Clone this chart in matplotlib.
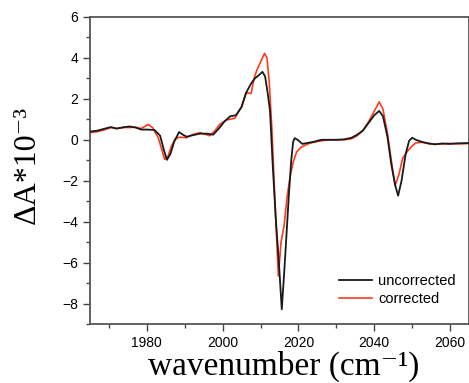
import matplotlib
matplotlib.use("Agg")
import matplotlib.pyplot as plt
from matplotlib.ticker import MultipleLocator

# data
x_uncorr = [1965, 1967, 1969, 1970.5, 1972, 1974, 1975.5, 1977, 1978.5, 1980, 1982, 1983.5, 1984.5,
            1985.3, 1986.2, 1987.2, 1988.5, 1989.5, 1990.5, 1992, 1994, 1996, 1997.5, 1999, 2000.5,
            2002, 2003.5, 2005, 2006.2, 2007.5, 2008.5, 2009.5, 2010.5, 2011.2, 2011.9, 2012.5,
            2013.2, 2014, 2014.8, 2015.6, 2016.2, 2016.8, 2017.5, 2018.1, 2018.6, 2019.0, 2019.8,
            2021, 2022.5, 2024, 2026, 2028, 2030, 2032, 2034, 2035.5, 2037, 2038.7, 2040, 2041.3,
            2042.3, 2043.5, 2044.5, 2045.5, 2046.3, 2047.2, 2048.3, 2049.2, 2050, 2051, 2052.7,
            2054.5, 2056, 2058, 2060, 2062, 2065]
y_uncorr = [0.40, 0.45, 0.55, 0.62, 0.55, 0.62, 0.65, 0.6, 0.5, 0.5, 0.48, 0.2, -0.5,
            -0.98, -0.7, -0.1, 0.38, 0.25, 0.15, 0.22, 0.30, 0.3, 0.25, 0.55, 0.9,
            1.15, 1.2, 1.6, 2.3, 2.75, 3.0, 3.15, 3.32, 3.1, 2.26, 1.4,
            -1.2, -3.8, -5.9, -8.28, -6.6, -4.77, -2.6, -1.0, -0.1, 0.08, 0.0,
            -0.2, -0.15, -0.1, 0.0, 0.0, 0.0, 0.02, 0.1, 0.25, 0.45, 0.87, 1.2, 1.41,
            1.15, 0.13, -1.2, -2.2, -2.73, -2.0, -0.68, -0.05, 0.1, 0.0, -0.11,
            -0.18, -0.22, -0.18, -0.2, -0.17, -0.16]

x_corr = [1965, 1967, 1969, 1970.5, 1972, 1974, 1975.5, 1977, 1978.5, 1980.3, 1981.5, 1983, 1984.7,
          1985.5, 1986.5, 1987.5, 1988.7, 1990.4, 1992, 1994, 1996.6, 1998, 1999.2, 2001, 2003.2,
          2004.9, 2006.2, 2007.5, 2008.3, 2009, 2010, 2011.05, 2011.7, 2012.3, 2013, 2013.8,
          2014.7, 2015.4, 2016.2, 2017.0, 2017.8, 2018.6, 2019.5, 2020.7, 2022.5, 2024, 2026, 2028,
          2030, 2032, 2034, 2035.5, 2037, 2038.7, 2040, 2041.3, 2042.3, 2043.5, 2044.5, 2045.5,
          2046.5, 2047.5, 2049, 2050, 2051, 2052.7, 2054.5, 2056, 2058, 2060, 2062, 2065]
y_corr = [0.35, 0.4, 0.5, 0.6, 0.55, 0.6, 0.6, 0.62, 0.55, 0.75, 0.6, 0.1, -0.95,
          -0.85, -0.3, 0.05, 0.13, 0.1, 0.25, 0.35, 0.2, 0.45, 0.75, 0.97, 1.05,
          1.6, 2.3, 2.26, 3.0, 3.4, 3.8, 4.22, 4.0, 2.8, 0.5, -3.0,
          -6.65, -5.0, -4.2, -2.8, -1.8, -1.1, -0.6, -0.36, -0.2, -0.12, -0.05, 0.0,
          0.0, 0.0, 0.05, 0.2, 0.45, 0.95, 1.4, 1.85, 1.5, 0.3, -1.0, -2.24,
          -1.7, -0.9, -0.5, -0.3, -0.15, -0.12, -0.2, -0.22, -0.2, -0.18, -0.2, -0.18]

labels = ["uncorrected", "corrected"]

fig = plt.figure(figsize=(4.69, 3.83), dpi=100)
ax = fig.add_axes([90/469, 1-324/383, 1-90/469, (324-17)/383])

ax.plot(x_uncorr, y_uncorr, color='#1a1a1a', lw=1.3, label=labels[0], zorder=3)
ax.plot(x_corr, y_corr, color='#ff3a1c', lw=1.2, label=labels[1], zorder=2)

ax.set_xlim(1965, 2065)
ax.set_ylim(-9, 6)
ax.xaxis.set_major_locator(MultipleLocator(20))
ax.xaxis.set_minor_locator(MultipleLocator(10))
ax.yaxis.set_major_locator(MultipleLocator(2))
ax.yaxis.set_minor_locator(MultipleLocator(1))
ax.tick_params(which='major', direction='out', length=5, width=1, colors='#444444',
               labelsize=10, labelcolor='black')
ax.tick_params(which='minor', direction='out', length=3, width=1, colors='#444444')
for lab in ax.get_xticklabels() + ax.get_yticklabels():
    lab.set_fontfamily('Liberation Sans')
for s in ax.spines.values():
    s.set_color('#555555')
    s.set_linewidth(1.3)

serif = ['Liberation Serif', 'DejaVu Serif']
ax.set_xlabel('wavenumber (cm\u207b\u00b9)', family=serif, fontsize=24, va='baseline')
ax.xaxis.set_label_coords((284 - 90) / 379, -(375 - 324) / 307)
ax.set_ylabel('\u0394A*10\u207b\u00b3', family=serif, fontsize=23, va='baseline')
ax.yaxis.set_label_coords(-(90 - 35) / 379, (324 - 165) / 307)

leg = ax.legend(loc='lower right', bbox_to_anchor=(1.0, 0.015), frameon=False,
                prop={'family': 'Liberation Sans', 'size': 10.5}, handlelength=2.3,
                handletextpad=0.4, labelspacing=0.3)

fig.savefig('out.png', dpi=100)
